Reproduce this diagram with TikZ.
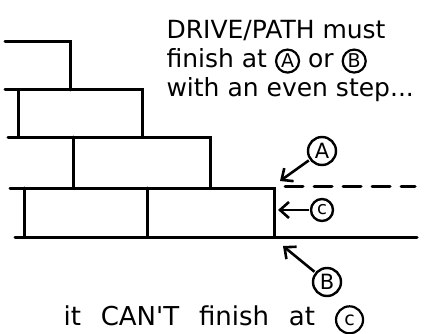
\documentclass[tikz,border=0pt]{standalone}
\usepackage{fontspec}
\setmainfont{DejaVu Sans}
\newfontfamily\widefont[WordSpace=2.4]{DejaVu Sans}
\usetikzlibrary{arrows.meta}
\newcommand{\ringed}[2][23pt]{\tikz[baseline=(ring.base)]\node[circle,draw,line width=2.2pt,inner sep=0pt,minimum size=#1,font=\fontsize{19}{19}\selectfont] (ring) {#2};}

\begin{document}
\begin{tikzpicture}[x=1pt,y=-1pt,
  wall/.style={line width=3pt,line cap=round},
  callout/.style={circle,draw,line width=2.4pt,inner sep=0pt,minimum size=28pt,font=\fontsize{21}{21}\selectfont},
  pointer/.style={-{Straight Barb[length=9pt,width=16pt]},line width=2.6pt,shorten <=1pt},
  note/.style={align=left,font=\fontsize{25}{29}\selectfont}
]
\useasboundingbox (0,0) rectangle (433,334);
% wall of steps
\draw[wall] (5,42) -- (70,42) -- (70,90);
\draw[wall] (5,90) -- (142,90) -- (142,137);
\draw[wall] (18,90) -- (18,137);
\draw[wall] (8,137) -- (210,137) -- (210,188);
\draw[wall] (73,137) -- (73,188);
\draw[wall] (10,188) -- (274,188) -- (274,237);
\draw[wall] (24,188) -- (24,237);
\draw[wall] (147,188) -- (147,237);
\draw[wall] (15,237) -- (417,237);
\draw[wall,dash pattern=on 18pt off 11pt] (285,186) -- (415,186);
% end points
\node[callout] (markA) at (322,151) {A};
\node[callout,minimum size=22pt,font=\fontsize{18}{18}\selectfont] (markC) at (322,210) {c};
\node[callout] (markB) at (327,282) {B};
\coordinate (tipA) at (280,181);
\coordinate (tipC) at (278,210);
\coordinate (tipB) at (283,246);
\draw[pointer] (markA) -- (tipA);
\draw[pointer] (markC) -- (tipC);
\draw[pointer] (markB) -- (tipB);
% texts
\node[note,anchor=base west] (rule) at (163,97) {DRIVE/PATH must\\finish at \ringed{A} or \ringed{B}\\with an even step...};
\node[note,anchor=base west,font=\widefont\fontsize{26}{29}\selectfont] (verdict) at (60,325) {it CAN'T finish at \ringed[27pt]{c}};
\end{tikzpicture}
\end{document}
